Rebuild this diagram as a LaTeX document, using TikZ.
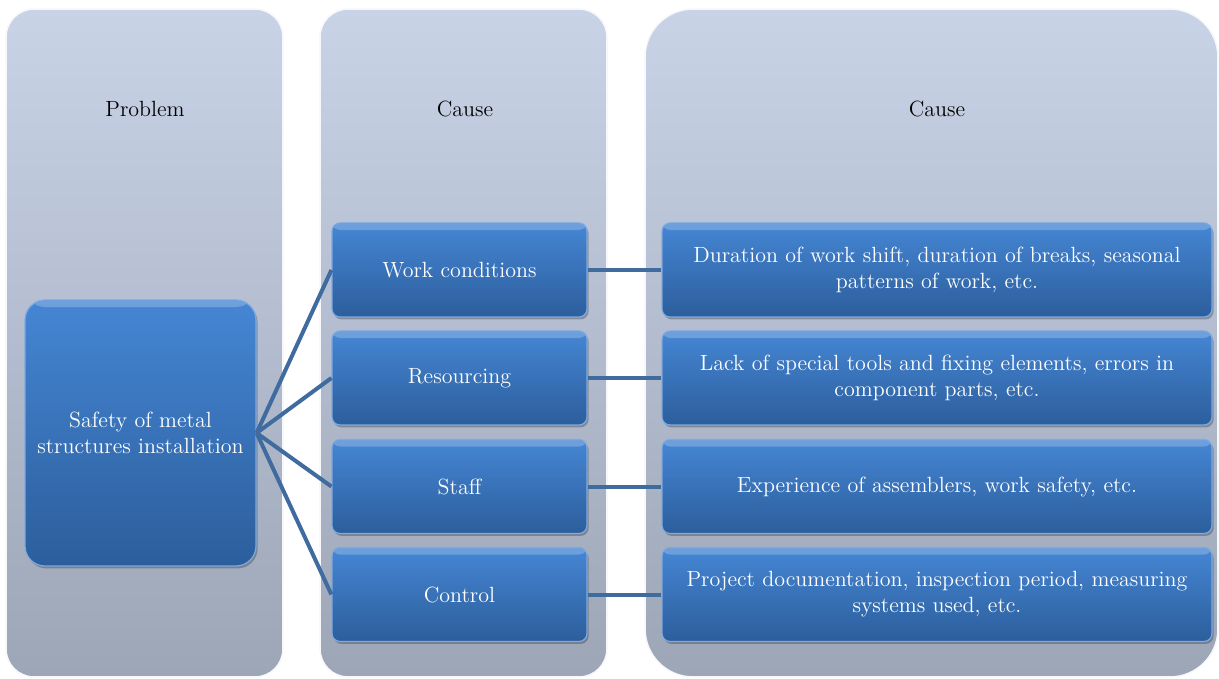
\documentclass[tikz,border=0pt]{standalone}
\usetikzlibrary{shadows}
\definecolor{colTop}{HTML}{C9D3E7}
\definecolor{colBot}{HTML}{9DA6B6}
\definecolor{boxTop}{HTML}{4586D4}
\definecolor{boxBot}{HTML}{2C5E9C}
\definecolor{lineC}{HTML}{3F6B9F}
\tikzset{
  colbox/.style={top color=colTop, bottom color=colBot, draw=white!85!colTop, line width=0.8pt},
  hdr/.style={font=\fontsize{11}{13}\selectfont, text=black},
  bluebox/.style={rounded corners=4pt, top color=boxTop, bottom color=boxBot, draw=boxTop!70!white, line width=0.6pt,
    text=white, font=\fontsize{11}{13}\selectfont, align=center, inner sep=0pt,
    drop shadow={shadow xshift=0.8pt, shadow yshift=-1.2pt, fill=black, opacity=0.25},
    path picture={\fill[white,opacity=0.22] ([yshift=-0.3pt]path picture bounding box.north west) rectangle ([yshift=-3.5pt]path picture bounding box.north east);}},
  causebox/.style={bluebox, minimum width=127.5pt, minimum height=47pt, text width=120pt},
  detailbox/.style={bluebox, minimum width=275pt, minimum height=47pt, text width=268pt},
  conn/.style={draw=lineC, line width=2pt}
}
\begin{document}
\begin{tikzpicture}[x=0.5pt,y=-0.5pt]
\useasboundingbox (0,0) rectangle (1219,679);
% columns
\path[colbox, rounded corners=14pt] (6,9) rectangle (283,677);
\path[colbox, rounded corners=14pt] (320,9) rectangle (607,677);
\path[colbox, rounded corners=24pt] (645,9) rectangle (1218,677);
% headers
\node[hdr] (h1) at (145,109) {Problem};
\node[hdr] (h2) at (465,109) {Cause};
\node[hdr] (h3) at (937,109) {Cause};
% main problem box
\node[bluebox, rounded corners=10pt, minimum width=115.5pt, minimum height=133pt, text width=114pt] (main) at (140.5,433) {Safety of metal\\structures installation};
% cause boxes
\node[causebox] (c1) at (459.5,270) {Work conditions};
\node[causebox] (c2) at (459.5,378) {Resourcing};
\node[causebox] (c3) at (459.5,486.5) {Staff};
\node[causebox] (c4) at (459.5,594.5) {Control};
% detail boxes
\node[detailbox] (d1) at (937,270) {Duration of work shift, duration of breaks, seasonal\\patterns of work, etc.};
\node[detailbox] (d2) at (937,378) {Lack of special tools and fixing elements, errors in\\component parts, etc.};
\node[detailbox] (d3) at (937,486.5) {Experience of assemblers, work safety, etc.};
\node[detailbox] (d4) at (937,594.5) {Project documentation, inspection period, measuring\\systems used, etc.};
% connectors
\foreach \i in {1,2,3,4}{
  \draw[conn] (main.east) -- (c\i.west);
  \draw[conn] (c\i.east) -- (d\i.west);
}
\end{tikzpicture}
\end{document}
